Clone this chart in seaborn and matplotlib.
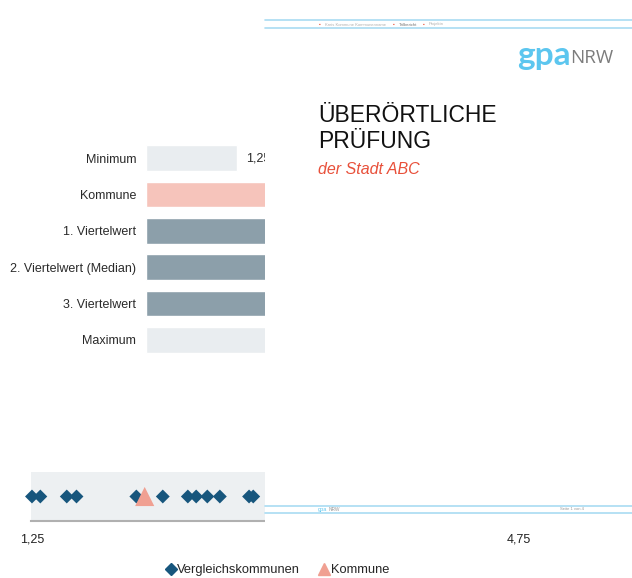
import matplotlib
matplotlib.use("Agg")
import matplotlib.pyplot as plt
import pandas as pd
import seaborn as sns
from matplotlib.lines import Line2D
from matplotlib.patches import Rectangle

# --- data -------------------------------------------------------------
categories = ["Minimum", "Kommune", "1. Viertelwert", "2. Viertelwert (Median)",
              "3. Viertelwert", "Maximum"]
values = [1.25, 2.06, 1.95, 2.55, 3.10, 4.75]
bar_colors = ["#e9edf0", "#f6c4bb", "#8c9faa", "#8c9faa", "#8c9faa", "#e9edf0"]

vergleich = [1.25, 1.31, 1.50, 1.57, 2.00, 2.19, 2.37, 2.43, 2.51, 2.60,
             2.81, 2.84, 3.05, 3.20, 3.45, 3.90, 4.75]
kommune = 2.06
tick_values = [1.25, 4.75]
tick_labels = ["1,25", "4,75"]

W, H = 632, 578
FONT = ["Liberation Sans", "DejaVu Sans"]

sns.set_style("white")
plt.rcParams["font.family"] = FONT


def px(x0, y0, x1, y1):
    return [x0 / W, 1 - y1 / H, (x1 - x0) / W, (y1 - y0) / H]


fig = plt.figure(figsize=(W / 100, H / 100), dpi=100)

# --- bar chart ----------------------------------------------------------
df = pd.DataFrame({"cat": categories, "val": values})
ax = fig.add_axes(px(146, 140, 510, 358))
sns.barplot(data=df, y="cat", x="val", hue="cat", palette=bar_colors,
            saturation=1, legend=False, width=0.71, ax=ax)
ax.set_xlim(0, 5)
ax.set_xlabel("")
ax.set_ylabel("")
ax.set_xticks([])
ax.tick_params(axis="y", length=0, pad=7, labelsize=9, labelcolor="#2a2a2a")
sns.despine(ax=ax, left=True, bottom=True)
for i, v in enumerate(values):
    ax.text(v + 0.12, i, f"{v:.2f}".replace(".", ","), va="center", ha="left",
            fontsize=9, color="#2a2a2a")

# --- strip ---------------------------------------------------------------
ax2 = fig.add_axes(px(31, 472, 520, 521))
ax2.set_facecolor("#edf0f2")
sdf = pd.DataFrame({"x": vergleich, "y": [0] * len(vergleich)})
sns.scatterplot(data=sdf, x="x", y="y", marker="D", s=50, color="#17567d",
                edgecolor="none", ax=ax2, clip_on=False, zorder=3)
ax2.scatter([kommune], [0], marker="^", s=190, color="#f0a092",
            edgecolor="none", zorder=4, clip_on=False)
ax2.set_xlim(1.243, 4.757)
ax2.set_ylim(-1, 1)
ax2.set_yticks([])
ax2.set_xticks(tick_values)
ax2.set_xticklabels(tick_labels)
ax2.tick_params(axis="x", length=0, pad=9, labelsize=9, labelcolor="#222222")
ax2.set_xlabel("")
ax2.set_ylabel("")
for s in ["top", "left", "right"]:
    ax2.spines[s].set_visible(False)
ax2.spines["bottom"].set_color("#b0b0b0")
ax2.spines["bottom"].set_linewidth(1.5)

handles = [Line2D([], [], marker="D", linestyle="none", color="#17567d", markersize=6),
           Line2D([], [], marker="^", linestyle="none", color="#f0a092", markersize=8)]
fig.legend(handles, ["Vergleichskommunen", "Kommune"], loc="center",
           bbox_to_anchor=(277 / W, 1 - 570 / H), ncol=2, frameon=False,
           fontsize=9.3, handletextpad=0.05, columnspacing=1.4, handlelength=0.9)

# --- overlapping document page ---------------------------------------------
page = fig.add_axes([0, 0, 1, 1], zorder=10)
page.set_xlim(0, W)
page.set_ylim(H, 0)
page.axis("off")
page.add_patch(Rectangle((265, 0), W - 265, 527, facecolor="white", edgecolor="none"))
for yy in [20, 28, 506, 513]:
    page.plot([265, W], [yy, yy], color="#a9dcf2", lw=1.2)
page.text(319, 24.5, "▪", color="#e8503a", fontsize=3.5, va="center")
page.text(325, 24.5, "Kreis Kommune Kommunenname", color="#b0b0b0", fontsize=3, va="center")
page.text(393, 24.5, "▪", color="#e8503a", fontsize=3.5, va="center")
page.text(399, 24.5, "Teilbericht", color="#707070", fontsize=3, va="center")
page.text(423, 24.5, "▪", color="#e8503a", fontsize=3.5, va="center")
page.text(429, 24.5, "Projektn", color="#b0b0b0", fontsize=3, va="center")
page.text(517, 56, "gpa", color="#5cc6ef", fontsize=24, va="center", ha="left",
          fontfamily="Lato", fontweight="bold")
page.text(570, 58, "NRW", color="#7c7c7c", fontsize=13.5, va="center", ha="left",
          fontfamily="Open Sans")
page.text(318, 116, "ÜBERÖRTLICHE", color="#111111", fontsize=16.5, va="center")
page.text(318, 141, "PRÜFUNG", color="#111111", fontsize=16.5, va="center")
page.text(318, 170, "der Stadt ABC", color="#e8503a", fontsize=11.5, va="center",
          style="italic")
page.text(318, 509.5, "gpa", color="#5cc6ef", fontsize=4, va="center")
page.text(329, 509.5, "NRW", color="#9a9a9a", fontsize=3.5, va="center")
page.text(560, 509.5, "Seite 1 von 4", color="#9a9a9a", fontsize=3, va="center")

fig.savefig("out.png", dpi=100, facecolor="white")
